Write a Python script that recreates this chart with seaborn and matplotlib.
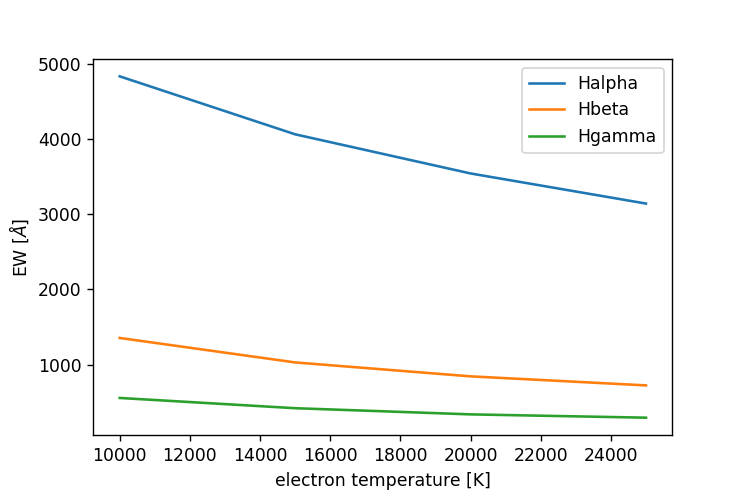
import pandas as pd
import matplotlib
matplotlib.use("Agg")
import matplotlib.pyplot as plt
import seaborn as sns

# =========================
# DATA
# =========================

temperature = [10000, 15000, 20000, 25000]
halpha = [4830, 4060, 3540, 3140]
hbeta = [1355, 1030, 845, 725]
hgamma = [558, 422, 340, 296]

lines = ["Halpha", "Hbeta", "Hgamma"]

df = pd.DataFrame({
    "temperature": temperature * 3,
    "ew": halpha + hbeta + hgamma,
    "line": [n for n in lines for _ in temperature],
})

# =========================
# PLOT
# =========================

fig, ax = plt.subplots(figsize=(6, 4), dpi=124.5)
fig.subplots_adjust(left=0.125, right=0.9, bottom=0.127, top=0.881)

sns.lineplot(
    data=df,
    x="temperature",
    y="ew",
    hue="line",
    hue_order=lines,
    palette=["#1f77b4", "#ff7f0e", "#2ca02c"],
    ax=ax
)

ax.set_xlabel("electron temperature [K]")
ax.set_ylabel(r"EW [$\AA$]")
ax.legend(loc="upper right")

plt.savefig("out.png", dpi=124.5)
plt.close()
